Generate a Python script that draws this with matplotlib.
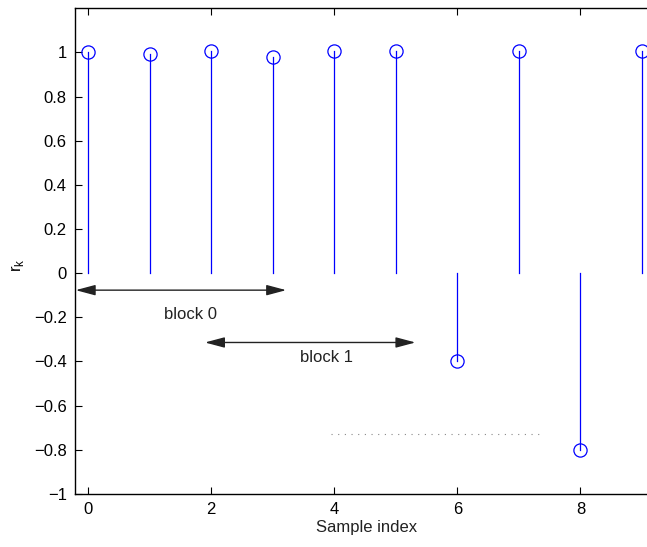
import matplotlib
matplotlib.use("Agg")
import matplotlib.pyplot as plt
import numpy as np

# stem values r_k
samples = [0, 1, 2, 3, 4, 5, 6, 7, 8, 9]
r_k = [1.0, 0.994, 1.008, 0.979, 1.004, 1.005, -0.40, 1.005, -0.80, 1.005]

# annotations
block0_span = (-0.2, 3.22)
block0_y = -0.077
block1_span = (1.9, 5.32)
block1_y = -0.314
dots_span = (3.95, 7.35)
dots_y = -0.727

plt.rcParams["font.family"] = ["Liberation Sans", "DejaVu Sans"]

fig = plt.figure(figsize=(6.47, 5.47), dpi=100)
# right edge of the axes runs past the figure, as in the reference
ax = fig.add_axes([0.116, 0.097, 0.90, 0.888])

for x, y in zip(samples, r_k):
    ax.plot([x, x], [0, y], color="#0000ff", lw=0.9)
ax.plot(samples, r_k, "o", mfc="none", mec="#0000ff", ms=9.5, mew=0.9)

arrow = dict(arrowstyle="<|-|>,head_length=0.6,head_width=0.16", color="#222222",
             lw=1.0, mutation_scale=20, shrinkA=0, shrinkB=0)
ax.annotate("", xy=(block0_span[0], block0_y), xytext=(block0_span[1], block0_y),
            arrowprops=arrow)
ax.annotate("", xy=(block1_span[0], block1_y), xytext=(block1_span[1], block1_y),
            arrowprops=arrow)
ax.text(1.66, -0.186, "block 0", ha="center", va="center", fontsize=12, color="#222222")
ax.text(3.88, -0.38, "block 1", ha="center", va="center", fontsize=12, color="#222222")
ax.plot(dots_span, [dots_y, dots_y], ls=(0, (1, 5)), color="#888888", lw=0.8)

ax.set_xlim(-0.21, 9.25)
ax.set_ylim(-1, 1.2)
ax.set_xticks([0, 2, 4, 6, 8])
ax.set_yticks(np.arange(-1, 1.01, 0.2))
ax.set_yticklabels(["\u22121", "\u22120.8", "\u22120.6", "\u22120.4", "\u22120.2",
                    "0", "0.2", "0.4", "0.6", "0.8", "1"])
ax.tick_params(direction="in", top=True, right=False, length=5, labelsize=12, pad=6)
ax.set_xlabel("Sample index", fontsize=12, color="#222222", labelpad=2)
ax.set_ylabel("r$_\\mathregular{k}$", fontsize=12)
ax.yaxis.set_label_coords(-0.085, 0.47)
for s in ax.spines.values():
    s.set_linewidth(1.0)

fig.savefig("out.png", dpi=100)
